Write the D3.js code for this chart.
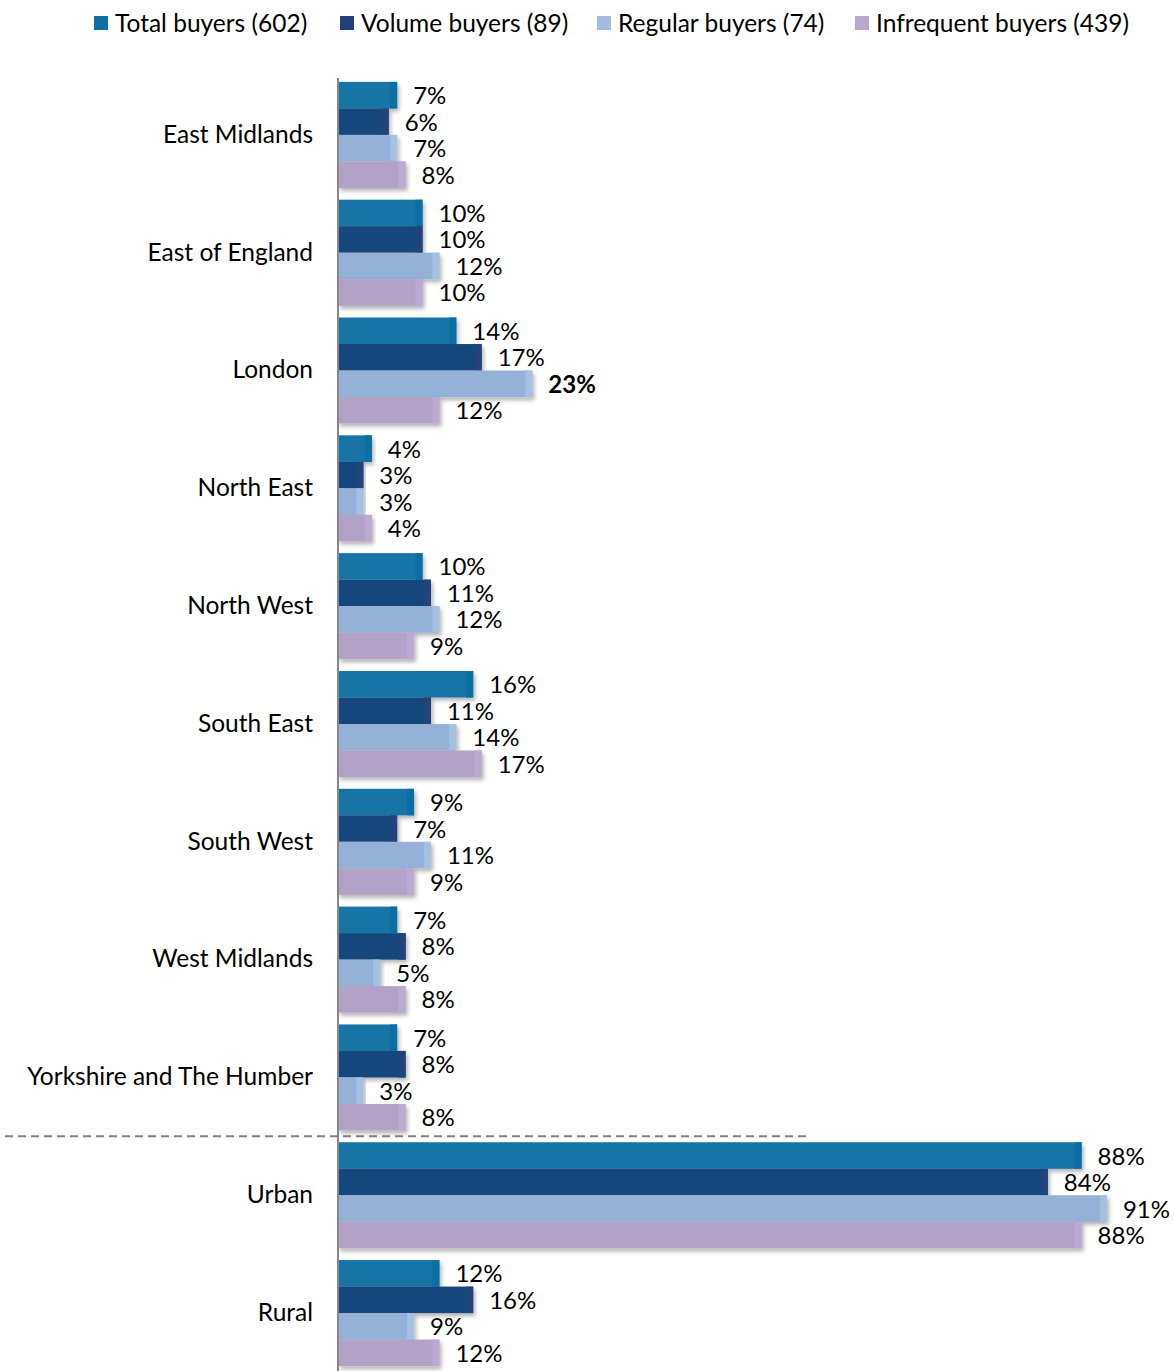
<!DOCTYPE html>
<html>
<head>
<meta charset="utf-8">
<script src="https://cdn.jsdelivr.net/npm/d3@7"></script>
<style>
  html, body { margin: 0; padding: 0; background: #fff; }
  svg { display: block; font-family: Lato, "Open Sans", sans-serif; }
</style>
</head>
<body>
<svg id="chart" width="1174" height="1371"></svg>
<script>
// Share of buyers by region and by urban/rural split, per buyer segment
const categories = [
  "East Midlands", "East of England", "London", "North East", "North West",
  "South East", "South West", "West Midlands", "Yorkshire and The Humber",
  "Urban", "Rural"
];
const seriesNames = [
  "Total buyers (602)", "Volume buyers (89)",
  "Regular buyers (74)", "Infrequent buyers (439)"
];
const totalBuyers      = [7, 10, 14, 4, 10, 16, 9, 7, 7, 88, 12];
const volumeBuyers     = [6, 10, 17, 3, 11, 11, 7, 8, 8, 84, 16];
const regularBuyers    = [7, 12, 23, 3, 12, 14, 11, 5, 3, 91, 9];
const infrequentBuyers = [8, 10, 12, 4, 9, 17, 9, 8, 8, 88, 12];
// highlighted value: London, regular buyers
const highlight = { category: "London", series: 2 };

const seriesValues = [totalBuyers, volumeBuyers, regularBuyers, infrequentBuyers];
const barColors    = ["#1374a6", "#19477b", "#94b2d7", "#b3a2c7"];
const capColors    = ["#0a6fa3", "#23437a", "#a6c0e2", "#bdaad3"];
const legendColors = ["#0f70a2", "#22417a", "#a3bbdf", "#b9a7cf"];

const FONT = 24.5;
const svg = d3.select("#chart");
const axisX = 338;

const x = d3.scaleLinear().domain([0, 100]).range([axisX, axisX + 845]);
const y = d3.scaleBand().domain(categories).range([76, 1372])
  .paddingInner(0.1).paddingOuter(0.05);
const ySub = d3.scaleBand().domain(d3.range(seriesNames.length)).range([0, y.bandwidth()]);

// soft drop shadow behind bars
const defs = svg.append("defs");
const f = defs.append("filter").attr("id", "shadow")
  .attr("x", "-5%").attr("y", "-20%").attr("width", "115%").attr("height", "160%");
f.append("feDropShadow").attr("dx", 2).attr("dy", 3).attr("stdDeviation", 2)
  .attr("flood-color", "#000").attr("flood-opacity", 0.3);

// bars
const groups = svg.append("g").selectAll("g").data(categories).join("g")
  .attr("transform", d => `translate(0,${y(d)})`);

groups.each(function(cat, ci) {
  const g = d3.select(this);
  seriesValues.forEach((vals, si) => {
    const v = vals[ci];
    const y0 = ySub(si);
    const h = ySub.bandwidth();
    g.append("rect")
      .attr("x", x(0)).attr("y", y0)
      .attr("width", x(v) - x(0)).attr("height", h)
      .attr("fill", barColors[si])
      .attr("filter", "url(#shadow)");
    // slightly lighter/darker end cap
    const capW = Math.min(7, (x(v) - x(0)) * 0.3);
    g.append("rect")
      .attr("x", x(v) - capW).attr("y", y0)
      .attr("width", capW).attr("height", h)
      .attr("fill", capColors[si]);
    const bold = cat === highlight.category && si === highlight.series;
    g.append("text")
      .attr("x", x(v) + 16).attr("y", y0 + h / 2 + 9)
      .attr("font-size", 24)
      .attr("font-weight", bold ? "bold" : "normal")
      .attr("fill", "#000")
      .text(v + "%");
  });
});

// category axis
const yAxis = d3.axisLeft(y).tickSize(0).tickPadding(25);
const ax = svg.append("g").attr("transform", `translate(${axisX},0)`).call(yAxis);
ax.select(".domain").attr("stroke", "#868686").attr("stroke-width", 2)
  .attr("d", "M0,78V1371");
ax.selectAll(".tick text").attr("font-size", FONT).attr("fill", "#000")
  .attr("font-family", "Lato, 'Open Sans', sans-serif");

// dashed separator between regions and urban/rural
const sepY = (y("Yorkshire and The Humber") + y.bandwidth() + y("Urban")) / 2;
svg.append("line")
  .attr("x1", 5).attr("x2", 806).attr("y1", sepY).attr("y2", sepY)
  .attr("stroke", "#808080").attr("stroke-width", 2)
  .attr("stroke-dasharray", "8,5");

// legend
const legendX = [94, 340, 597, 855];
const legend = svg.append("g").selectAll("g").data(seriesNames).join("g")
  .attr("transform", (d, i) => `translate(${legendX[i]},16)`);
legend.append("rect").attr("width", 14).attr("height", 14)
  .attr("fill", (d, i) => legendColors[i]);
legend.append("text").attr("x", 21).attr("y", 15.5)
  .attr("font-size", FONT).attr("fill", "#000").text(d => d);
</script>
</body>
</html>
